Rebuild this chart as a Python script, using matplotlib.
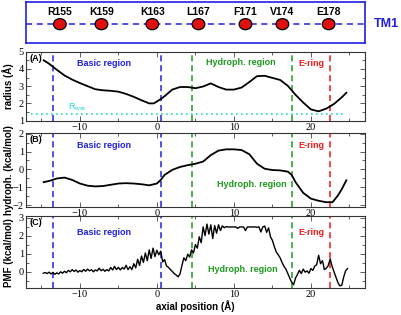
import numpy as np
import matplotlib
matplotlib.use('Agg')
import matplotlib.pyplot as plt
from matplotlib.patches import Ellipse
from matplotlib.ticker import MultipleLocator

plt.rcParams['font.family'] = 'Liberation Sans'

# residues along TM1 (axial position in Angstrom)
residues = ['R155', 'K159', 'K163', 'L167', 'F171', 'V174', 'E178']
residue_pos = [-12.6, -7.2, -0.6, 5.4, 11.5, 16.3, 22.3]

# region boundaries
basic_lines = [-13.5, 0.5]
hydro_lines = [4.5, 17.5]
ering_line = 22.5

# (A) pore radius
rad_x = [-14.7, -14, -13, -12, -11, -10, -9, -8, -7, -6, -5, -4, -3, -2, -1, -0.4,
         0.5, 1, 2, 3, 4, 5, 6, 7, 8, 9, 10, 11, 12, 13, 14, 15, 16, 17, 18, 19,
         20, 21, 22, 23, 24, 24.6]
rad_y = [4.50, 4.30, 3.95, 3.62, 3.38, 3.18, 3.00, 2.82, 2.76, 2.73, 2.68, 2.55,
         2.38, 2.18, 2.00, 2.00, 2.25, 2.42, 2.80, 2.95, 2.95, 2.88, 2.98, 3.16,
         2.95, 2.80, 2.80, 2.92, 3.24, 3.58, 3.60, 3.48, 3.36, 3.02, 2.50, 2.05,
         1.65, 1.54, 1.70, 1.97, 2.35, 2.62]
r_wat = 1.39

# (B) hydrophobicity
hyd_x = [-14.7, -14, -13, -12, -11, -10, -9, -8, -7, -6, -5, -4, -3, -2, -1, 0,
         0.5, 1, 2, 3, 4, 5, 6, 7, 8, 9, 10, 11, 12, 13, 14, 15, 16, 17, 17.5,
         18, 19, 20, 21, 22, 22.8, 23.5, 24, 24.6]
hyd_y = [-0.70, -0.64, -0.50, -0.45, -0.58, -0.78, -0.90, -0.94, -0.92, -0.85,
         -0.78, -0.76, -0.78, -0.82, -0.88, -0.78, -0.58, -0.30, -0.02, 0.14,
         0.24, 0.32, 0.44, 0.80, 1.05, 1.12, 1.12, 1.08, 0.85, 0.32, 0.04, -0.03,
         -0.05, -0.12, -0.30, -0.70, -1.30, -1.62, -1.74, -1.82, -1.82, -1.45,
         -1.10, -0.60]

# (C) PMF, sampled every 0.25 A from -14.75
pmf_y = [
    -0.08, -0.04, -0.10, -0.02,
    -0.12, -0.04, -0.14, -0.06,
    -0.12, 0.00, -0.08, 0.03,
    -0.05, 0.08, 0.00, 0.12,
    0.02, 0.10, -0.02, 0.07,
    0.00, 0.13, 0.03, 0.15,
    0.05, 0.12, 0.00, 0.10,
    0.05, 0.20, 0.06, 0.14,
    0.03, 0.12, 0.05, 0.24,
    0.10, 0.30, 0.12, 0.25,
    0.10, 0.24, 0.15, 0.36,
    0.12, 0.28, 0.12, 0.45,
    0.22, 0.70, 0.35, 0.88,
    0.52, 1.05, 0.62, 1.22,
    0.75, 1.32, 0.85, 1.20,
    0.95, 1.15, 0.55, 0.68,
    0.32, 0.25, 0.12, 0.02,
    -0.10, -0.18, -0.28, -0.12,
    0.35, 0.78, 0.62, 0.98,
    0.82, 1.22, 1.05, 1.52,
    1.32, 1.95, 1.62, 2.50,
    2.02, 2.66, 2.10, 2.62,
    1.85, 2.58, 2.15, 2.62,
    2.30, 2.56, 2.46, 2.52,
    2.50, 2.50, 2.50, 2.50,
    2.50, 2.42, 2.50, 2.50,
    2.50, 2.30, 2.50, 2.50,
    2.50, 2.50, 2.50, 2.48,
    2.50, 2.22, 2.50, 2.55,
    2.20, 2.45, 1.95, 1.75,
    1.40, 1.10, 0.95, 0.78,
    0.52, 0.30, 0.15, -0.10,
    -0.35, -0.58, -0.72, -0.35,
    -0.15, 0.08, -0.10, 0.15,
    -0.02, 0.05, -0.08, 0.18,
    0.08, 0.32, 0.40, 0.92,
    0.45, 0.62, 0.12, 0.20,
    0.35, 0.72, 0.30, 0.00,
    -0.30, -0.60, -0.78, -0.76,
    -0.30, 0.05, 0.18,
]
pmf_x = -14.75 + 0.25 * np.arange(len(pmf_y))

BLUE = '#2020e0'
GREEN = '#1e9a1e'
RED = '#ee1a1a'
CYAN = '#20d8c8'
XLIM = (-17, 27)
serif = 'Liberation Serif'

fig = plt.figure(figsize=(4.01, 3.15), dpi=100)

# top schematic
axt = fig.add_axes([0.0648, 0.8635, 0.845, 0.130])
axt.set_xlim(XLIM)
axt.set_ylim(0, 1)
axt.set_xticks([])
axt.set_yticks([])
for s in axt.spines.values():
    s.set_color(BLUE)
    s.set_linewidth(1.2)
axt.axhline(0.46, color=BLUE, ls=(0, (4, 3)), lw=1.1)
for name, xp in zip(residues, residue_pos):
    axt.add_patch(Ellipse((xp, 0.46), 1.65, 0.27, facecolor='#e01010',
                          edgecolor='black', lw=0.9, zorder=3))
    axt.text(xp, 0.75, name, ha='center', va='center', fontsize=7.5,
             fontweight='bold')
fig.text(0.964, 0.924, 'TM1', color=BLUE, fontsize=9, fontweight='bold',
         ha='center', va='center')


def style(ax, ylim, ymaj, ymin):
    ax.set_xlim(XLIM)
    ax.set_ylim(ylim)
    ax.xaxis.set_major_locator(MultipleLocator(10))
    ax.xaxis.set_minor_locator(MultipleLocator(5))
    ax.yaxis.set_major_locator(MultipleLocator(ymaj))
    ax.yaxis.set_minor_locator(MultipleLocator(ymin))
    ax.tick_params(which='both', direction='in', top=True, right=True,
                   width=0.6, color='#444444')
    ax.tick_params(which='major', length=3.5, labelsize=7.5, pad=1.5)
    ax.tick_params(which='minor', length=2)
    for lab in ax.get_xticklabels() + ax.get_yticklabels():
        lab.set_fontfamily(serif)
    for s in ax.spines.values():
        s.set_linewidth(0.8)
        s.set_color('#333333')
    for xv in basic_lines:
        ax.axvline(xv, color=BLUE, ls=(0, (4, 2.5)), lw=1.1)
    for xv in hydro_lines:
        ax.axvline(xv, color=GREEN, ls=(0, (4, 2.5)), lw=1.1)
    ax.axvline(ering_line, color=RED, ls=(0, (4, 2.5)), lw=1.1)


def labels(ax, basic_y, hydro_xy, ering_y):
    ax.text(-6.9, basic_y, 'Basic region', color=BLUE, fontsize=6.5,
            fontweight='bold', ha='center', va='center')
    ax.text(hydro_xy[0], hydro_xy[1], 'Hydroph. region', color=GREEN,
            fontsize=6.5, fontweight='bold', ha='center', va='center')
    ax.text(20.1, ering_y, 'E-ring', color=RED, fontsize=6.5,
            fontweight='bold', ha='center', va='center')


LAB = 7
YLAB_X = -0.036

# (A)
axa = fig.add_axes([0.0648, 0.617, 0.845, 0.219])
style(axa, (1, 5), 1, 0.5)
axa.plot(rad_x, rad_y, color='black', lw=1.3)
axa.axhline(r_wat, xmin=0.015, xmax=0.94, color=CYAN, ls=(0, (1, 2)), lw=1.2)
axa.text(-10.4, 1.8, r'R$_{\mathregular{wat}}$', color=CYAN, fontsize=6.5,
         ha='center', va='center')
labels(axa, 4.33, (10.85, 4.4), 4.3)
axa.text(0.01, 0.97, '(A)', transform=axa.transAxes, fontsize=6.5,
         fontweight='bold', va='top', ha='left')
axa.set_ylabel('radius (Å)', fontsize=LAB, fontweight='bold')
axa.yaxis.set_label_coords(YLAB_X, 0.5)

# (B)
axb = fig.add_axes([0.0648, 0.342, 0.845, 0.237])
style(axb, (-2.1, 2.05), 1, 0.5)
axb.plot(hyd_x, hyd_y, color='black', lw=1.3)
labels(axb, 1.33, (12.3, -0.82), 1.33)
axb.text(0.01, 0.97, '(B)', transform=axb.transAxes, fontsize=6.5,
         fontweight='bold', va='top', ha='left')
axb.set_ylabel('hydroph. (kcal/mol)', fontsize=LAB, fontweight='bold')
axb.yaxis.set_label_coords(YLAB_X, 0.5)

# (C)
axc = fig.add_axes([0.0648, 0.0848, 0.845, 0.230])
style(axc, (-0.92, 3.12), 1, 0.5)
axc.plot(pmf_x, pmf_y, color='black', lw=1.0)
labels(axc, 2.17, (11.1, 0.15), 2.17)
axc.text(0.01, 0.97, '(C)', transform=axc.transAxes, fontsize=6.5,
         fontweight='bold', va='top', ha='left')
axc.set_ylabel('PMF (kcal/mol)', fontsize=LAB, fontweight='bold')
axc.yaxis.set_label_coords(YLAB_X, 0.5)
axc.set_xlabel('axial position (Å)', fontsize=LAB, fontweight='bold',
               labelpad=0.5)

fig.savefig('out.png', dpi=100)
